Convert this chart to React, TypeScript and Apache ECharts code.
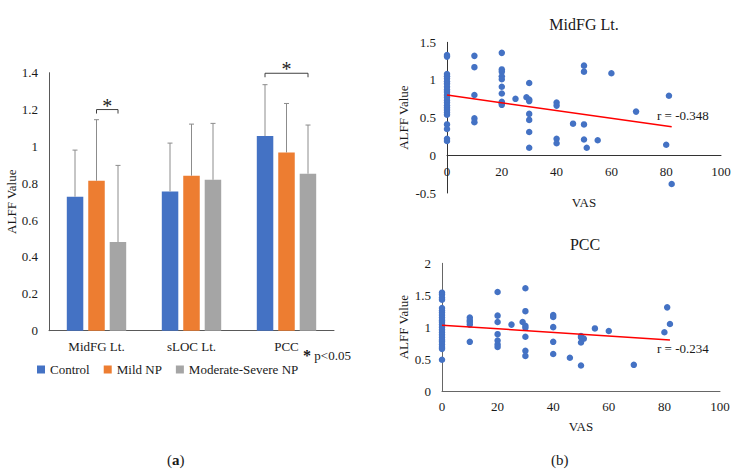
import React, { useEffect, useRef } from "react";
import * as echarts from "echarts";

// ---------- data ----------
const regions = ["MidFG Lt.", "sLOC Lt.", "PCC"];
const groups = ["Control", "Mild NP", "Moderate-Severe NP"];
const groupColors = ["#4472C4", "#ED7D31", "#A5A5A5"];
const meanControl = [0.727, 0.756, 1.056];
const meanMild = [0.814, 0.841, 0.967];
const meanModerate = [0.481, 0.819, 0.852];
const upperControl = [0.98, 1.018, 1.335];
const upperMild = [1.145, 1.121, 1.233];
const upperModerate = [0.897, 1.125, 1.116];
// significance brackets: [regionIndex, fromGroup, toGroup, level]
const sigBrackets = [
  [0, 1, 2, 1.2],
  [2, 0, 2, 1.397],
];

const midfgPoints: number[][] = [
  [0, 1.33], [0, 1.31], [0, 1.08], [0, 1.05], [0, 1.02], [0, 0.98], [0, 0.95], [0, 0.91],
  [0, 0.87], [0, 0.84], [0, 0.8], [0, 0.77], [0, 0.73], [0, 0.7], [0, 0.66], [0, 0.63],
  [0, 0.6], [0, 0.57], [0, 0.54], [0, 0.41], [0, 0.35], [0, 0.22], [0, 0.19],
  [10, 1.32], [10, 1.17], [10, 0.8], [10, 0.49], [10, 0.44],
  [20, 1.36], [20, 1.14], [20, 1.11], [20, 1.05], [20, 1.01], [20, 0.91], [20, 0.82],
  [20, 0.71], [20, 0.69], [20, 0.67],
  [25, 0.75], [29, 0.77],
  [30, 0.96], [30, 0.74], [30, 0.72], [30, 0.55], [30, 0.47], [30, 0.31], [30, 0.1],
  [40, 0.7], [40, 0.66], [40, 0.22], [40, 0.16],
  [46, 0.42],
  [50, 1.19], [50, 1.11], [50, 0.41], [50, 0.21], [51, 0.1],
  [55, 0.2], [60, 1.09], [69, 0.58], [80, 0.14], [81, 0.79], [82, -0.38],
];
const midfgTrend: number[][] = [[0, 0.8], [82, 0.38]];
const midfgR = "r = -0.348";

const pccPoints: number[][] = [
  [0, 1.54], [0, 1.51], [0, 1.46], [0, 1.43], [0, 1.3], [0, 1.26], [0, 1.23], [0, 1.19],
  [0, 1.15], [0, 1.11], [0, 1.08], [0, 1.04], [0, 1.0], [0, 0.96], [0, 0.92], [0, 0.88],
  [0, 0.84], [0, 0.8], [0, 0.77], [0, 0.73], [0, 0.69], [0, 0.66], [0, 0.49],
  [10, 1.15], [10, 1.11], [10, 1.08], [10, 1.04], [10, 0.77],
  [20, 1.55], [20, 1.18], [20, 1.08], [20, 0.89], [20, 0.79], [20, 0.73], [20, 0.69],
  [25, 1.04], [29, 1.08],
  [30, 1.61], [30, 1.25], [30, 1.02], [30, 0.99], [30, 0.85], [30, 0.63], [30, 0.55],
  [40, 1.19], [40, 1.16], [40, 1.0], [40, 0.77], [40, 0.58],
  [46, 0.52],
  [50, 0.86], [50, 0.84], [50, 0.76], [50, 0.4], [51, 0.82],
  [55, 0.98], [60, 0.94], [69, 0.41], [80, 0.92], [81, 1.31], [82, 1.05],
];
const pccTrend: number[][] = [[0, 1.03], [82, 0.8]];
const pccR = "r = -0.234";

// ---------- styling ----------
const FONT = "'Liberation Serif', 'Times New Roman', serif";
const TXT = "#1a1a1a";
const BAR_W = 16.5;
const BAR_OFFSET = 21.5;

export default function App() {
  const ref = useRef<HTMLDivElement>(null);

  useEffect(() => {
    if (!ref.current) return;
    const chart = echarts.init(ref.current, undefined, { renderer: "svg" });

    const means = [meanControl, meanMild, meanModerate];
    const uppers = [upperControl, upperMild, upperModerate];
    const errData: number[][] = [];
    for (let g = 0; g < 3; g++) {
      for (let c = 0; c < regions.length; c++) {
        errData.push([c, g, means[g][c], uppers[g][c]]);
      }
    }

    const label = (size = 13) => ({
      fontFamily: FONT,
      fontSize: size,
      color: TXT,
    });

    const option: any = {
      animation: false,
      textStyle: { fontFamily: FONT },
      title: [
        {
          text: "MidFG Lt.",
          left: 579,
          top: 11,
          textAlign: "center",
          textStyle: { ...label(16), fontWeight: "normal" },
        },
        {
          text: "PCC",
          left: 580,
          top: 231,
          textAlign: "center",
          textStyle: { ...label(16), fontWeight: "normal" },
        },
      ],
      legend: {
        data: groups,
        left: 32,
        top: 358,
        itemWidth: 8,
        itemHeight: 8,
        itemGap: 14,
        icon: "rect",
        textStyle: { ...label(13) },
      },
      grid: [
        { left: 49, top: 72.7, width: 285, height: 258 },
        { left: 447, top: 42.3, width: 274, height: 150.7 },
        { left: 442, top: 263.3, width: 278, height: 127.7 },
      ],
      xAxis: [
        {
          type: "category",
          gridIndex: 0,
          data: regions,
          axisLine: { lineStyle: { color: "#595959" } },
          axisTick: { show: false },
          axisLabel: { ...label(13), margin: 9 },
        },
        {
          type: "value",
          gridIndex: 1,
          min: 0,
          max: 100,
          interval: 20,
          offset: -37.7,
          name: "VAS",
          nameLocation: "middle",
          nameGap: 41,
          nameTextStyle: label(13),
          axisLine: { onZero: false, lineStyle: { color: "#333" } },
          axisTick: { show: false },
          splitLine: { show: false },
          axisLabel: { ...label(13), margin: 10 },
        },
        {
          type: "value",
          gridIndex: 2,
          min: 0,
          max: 100,
          interval: 20,
          name: "VAS",
          nameLocation: "middle",
          nameGap: 29,
          nameTextStyle: label(13),
          axisLine: { lineStyle: { color: "#666" } },
          axisTick: { show: false },
          splitLine: { show: false },
          axisLabel: { ...label(13), margin: 9 },
        },
      ],
      yAxis: [
        {
          type: "value",
          gridIndex: 0,
          min: 0,
          max: 1.4,
          interval: 0.2,
          name: "ALFF Value",
          nameLocation: "middle",
          nameGap: 30,
          nameTextStyle: label(13),
          axisLine: { show: true, lineStyle: { color: "#595959" } },
          axisTick: { show: false },
          splitLine: { show: false },
          axisLabel: { ...label(13), margin: 11 },
        },
        {
          type: "value",
          gridIndex: 1,
          min: -0.5,
          max: 1.5,
          interval: 0.5,
          name: "ALFF Value",
          nameLocation: "middle",
          nameGap: 37,
          nameTextStyle: label(13),
          axisLine: { show: true, onZero: false, lineStyle: { color: "#333" } },
          axisTick: { show: false },
          splitLine: { show: false },
          axisLabel: { ...label(13), margin: 11 },
        },
        {
          type: "value",
          gridIndex: 2,
          min: 0,
          max: 2,
          interval: 0.5,
          name: "ALFF Value",
          nameLocation: "middle",
          nameGap: 32,
          nameTextStyle: label(13),
          axisLine: { show: true, lineStyle: { color: "#666" } },
          axisTick: { show: false },
          splitLine: { show: false },
          axisLabel: { ...label(13), margin: 11 },
        },
      ],
      series: [
        ...groups.map((g, i) => ({
          name: g,
          type: "bar",
          xAxisIndex: 0,
          yAxisIndex: 0,
          data: means[i],
          barWidth: BAR_W,
          barGap: "30%",
          itemStyle: { color: groupColors[i] },
        })),
        {
          type: "custom",
          xAxisIndex: 0,
          yAxisIndex: 0,
          clip: false,
          z: 5,
          encode: { x: 0, y: [2, 3] },
          data: errData,
          renderItem: (_p: any, api: any) => {
            const c = api.value(0);
            const g = api.value(1);
            const base = api.coord([c, api.value(2)]);
            const top = api.coord([c, api.value(3)]);
            const x = base[0] + (g - 1) * BAR_OFFSET;
            const st = { stroke: "#8c8c8c", lineWidth: 1 };
            return {
              type: "group",
              children: [
                { type: "line", shape: { x1: x, y1: base[1], x2: x, y2: top[1] }, style: st },
                { type: "line", shape: { x1: x - 2.5, y1: top[1], x2: x + 2.5, y2: top[1] }, style: st },
              ],
            };
          },
        },
        {
          type: "custom",
          xAxisIndex: 0,
          yAxisIndex: 0,
          clip: false,
          z: 6,
          encode: { x: 0, y: 3 },
          data: sigBrackets,
          renderItem: (_p: any, api: any) => {
            const c = api.value(0);
            const p = api.coord([c, api.value(3)]);
            const x1 = p[0] + (api.value(1) - 1) * BAR_OFFSET;
            const x2 = p[0] + (api.value(2) - 1) * BAR_OFFSET;
            const y = p[1];
            const st = { stroke: "#404040", lineWidth: 1, fill: "none" };
            return {
              type: "group",
              children: [
                {
                  type: "polyline",
                  shape: { points: [[x1, y + 4], [x1, y], [x2, y], [x2, y + 4]] },
                  style: st,
                },
                {
                  type: "text",
                  style: {
                    text: "*",
                    x: (x1 + x2) / 2,
                    y: y - 4,
                    textAlign: "center",
                    textVerticalAlign: "middle",
                    font: `20px ${FONT}`,
                    fill: "#222",
                  },
                },
              ],
            };
          },
        },
        {
          type: "scatter",
          xAxisIndex: 1,
          yAxisIndex: 1,
          data: midfgPoints,
          symbolSize: 6.5,
          itemStyle: { color: "#4472C4", opacity: 1 },
          z: 3,
        },
        {
          type: "line",
          xAxisIndex: 1,
          yAxisIndex: 1,
          data: midfgTrend,
          symbol: "none",
          lineStyle: { color: "#FF0000", width: 1.5 },
          z: 4,
        },
        {
          type: "scatter",
          xAxisIndex: 2,
          yAxisIndex: 2,
          data: pccPoints,
          symbolSize: 6.5,
          itemStyle: { color: "#4472C4", opacity: 1 },
          z: 3,
        },
        {
          type: "line",
          xAxisIndex: 2,
          yAxisIndex: 2,
          data: pccTrend,
          symbol: "none",
          lineStyle: { color: "#FF0000", width: 1.5 },
          z: 4,
        },
      ],
      graphic: [
        {
          type: "text",
          left: 657,
          top: 109,
          style: { text: midfgR, font: `13px ${FONT}`, fill: TXT },
        },
        {
          type: "text",
          left: 657,
          top: 342,
          style: { text: pccR, font: `13px ${FONT}`, fill: TXT },
        },
        {
          type: "text",
          left: 303,
          top: 347,
          style: {
            rich: {
              s: { font: `bold 16px ${FONT}`, fill: TXT },
              t: { font: `13px ${FONT}`, fill: TXT },
            },
            text: "{s|*} {t|p<0.05}",
          },
        },
        {
          type: "text",
          left: 167,
          top: 452,
          style: {
            rich: {
              p: { font: `15px ${FONT}`, fill: TXT },
              l: { font: `bold 15px ${FONT}`, fill: TXT },
            },
            text: "{p|(}{l|a}{p|)}",
          },
        },
        {
          type: "text",
          left: 551,
          top: 452,
          style: { text: "(b)", font: `15px ${FONT}`, fill: TXT },
        },
      ],
    };

    chart.setOption(option);
    return () => chart.dispose();
  }, []);

  return (
    <div
      ref={ref}
      style={{ position: "fixed", left: 0, top: 0, width: 740, height: 474, background: "#fff" }}
    />
  );
}
